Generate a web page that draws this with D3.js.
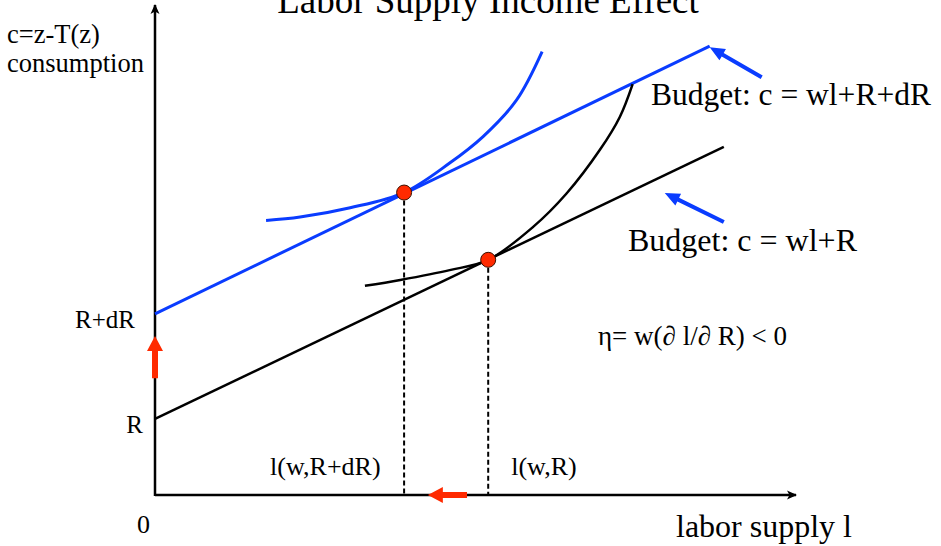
<!DOCTYPE html>
<html>
<head>
<meta charset="utf-8">
<script src="https://cdn.jsdelivr.net/npm/d3@7"></script>
<style>
  html, body { margin: 0; padding: 0; background: #fff; }
  svg { display: block; }
</style>
</head>
<body>
<svg id="chart" width="941" height="546"></svg>
<script>
// values, in chart units (l across, c up)
const budgetOld = [[0, 15.5], [88.6, 70.9]]          // c = wl+R
const budgetNew = [[0, 36.9], [86.4, 91.4]]          // c = wl+R+dR
const curveNew = [[17.3, 55.9], [22.6, 56.6], [30.4, 58.5], [38.8, 61.6], [45.9, 67.6], [51.1, 73.0], [56.3, 80.4], [60.3, 90.3]]
const curveOld = [[32.7, 42.6], [38.2, 43.8], [45.9, 45.8], [51.9, 47.9], [58.9, 54.6], [64.1, 61.4], [69.3, 70.3], [72.4, 77.0], [74.4, 83.7]]
const optima = [[38.8, 61.6], [51.9, 47.9]]
const optimumLabels = ['l(w,R+dR)', 'l(w,R)']
const interceptLabels = [['R', 15.5], ['R+dR', 36.9]]
// annotation arrows: [from, to]
const blueArrows = [[[94.5, 85.1], [86.4, 91.2]], [[88.6, 55.6], [79.4, 61.5]]]
const redArrows = [[[0, 23.8], [0, 32.4]], [[48.6, 0], [42.5, 0]]]

const blue = '#0a3cff'
const red = '#ff2a00'
const serif = '"Times New Roman", "Liberation Serif", Tinos, serif'

const svg = d3.select('#chart')
svg.append('rect').attr('width', 941).attr('height', 546).attr('fill', '#fff')

const x = d3.scaleLinear().domain([0, 100]).range([155, 797])
const y = d3.scaleLinear().domain([0, 100]).range([495, 4])

// arrow heads for the axes
svg.append('defs').append('marker')
	.attr('id', 'axisHead')
	.attr('markerUnits', 'userSpaceOnUse')
	.attr('viewBox', '0 -5 10 10')
	.attr('refX', 9).attr('refY', 0)
	.attr('markerWidth', 10).attr('markerHeight', 10)
	.attr('orient', 'auto')
	.append('path').attr('d', 'M0,-4.5L10,0L0,4.5L2.5,0Z').attr('fill', '#000')

// axes with no ticks, just the domain line
const xAxis = svg.append('g').attr('transform', `translate(0,${y(0)})`)
	.call(d3.axisBottom(x).tickValues([]).tickSizeOuter(0))
const yAxis = svg.append('g').attr('transform', `translate(${x(0)},0)`)
	.call(d3.axisLeft(y).tickValues([]).tickSizeOuter(0))
xAxis.select('.domain').attr('stroke-width', 2.5).attr('d', `M${x(0)},0H${x(100) - 1}`).attr('marker-end', 'url(#axisHead)')
yAxis.select('.domain').attr('stroke-width', 2.5).attr('d', `M0,${y(0) + 1}V${y(100) + 1}`).attr('marker-end', 'url(#axisHead)')

const line = d3.line().x(d => x(d[0])).y(d => y(d[1]))
const smooth = d3.line().x(d => x(d[0])).y(d => y(d[1])).curve(d3.curveCatmullRom)

// budget lines and indifference curves
svg.append('path').attr('d', line(budgetOld)).attr('fill', 'none').attr('stroke', '#000').attr('stroke-width', 2.5)
svg.append('path').attr('d', line(budgetNew)).attr('fill', 'none').attr('stroke', blue).attr('stroke-width', 3)
svg.append('path').attr('d', smooth(curveOld)).attr('fill', 'none').attr('stroke', '#000').attr('stroke-width', 2.5)
svg.append('path').attr('d', smooth(curveNew)).attr('fill', 'none').attr('stroke', blue).attr('stroke-width', 3)

// dashed drop lines
svg.selectAll('line.drop').data(optima).join('line')
	.attr('class', 'drop')
	.attr('x1', d => x(d[0])).attr('x2', d => x(d[0]))
	.attr('y1', d => y(d[1])).attr('y2', y(0))
	.attr('stroke', '#000').attr('stroke-width', 2).attr('stroke-dasharray', '5,3')

// arrow polygon in pixel space: shaft + head
function arrowPath(p0, p1, shaft, headLen, headW) {
	const x0 = x(p0[0]), y0 = y(p0[1]), x1 = x(p1[0]), y1 = y(p1[1])
	const len = Math.hypot(x1 - x0, y1 - y0)
	const ux = (x1 - x0) / len, uy = (y1 - y0) / len
	const nx = -uy, ny = ux
	const bx = x1 - ux * headLen, by = y1 - uy * headLen
	const pts = [
		[x0 + nx * shaft / 2, y0 + ny * shaft / 2],
		[bx + nx * shaft / 2, by + ny * shaft / 2],
		[bx + nx * headW / 2, by + ny * headW / 2],
		[x1, y1],
		[bx - nx * headW / 2, by - ny * headW / 2],
		[bx - nx * shaft / 2, by - ny * shaft / 2],
		[x0 - nx * shaft / 2, y0 - ny * shaft / 2],
	]
	return 'M' + pts.map(p => p.join(',')).join('L') + 'Z'
}

svg.selectAll('path.blueArrow').data(blueArrows).join('path')
	.attr('class', 'blueArrow')
	.attr('d', d => arrowPath(d[0], d[1], 4, 15, 13))
	.attr('fill', blue)

svg.selectAll('path.redArrow').data(redArrows).join('path')
	.attr('class', 'redArrow')
	.attr('d', d => arrowPath(d[0], d[1], 6, 15, 16))
	.attr('fill', red)

// optimum points
svg.selectAll('circle.opt').data(optima).join('circle')
	.attr('class', 'opt')
	.attr('cx', d => x(d[0])).attr('cy', d => y(d[1]))
	.attr('r', 7.5)
	.attr('fill', red).attr('stroke', '#3a1000').attr('stroke-width', 1)

// texts
function label(tx, ty, size, str, anchor) {
	return svg.append('text')
		.attr('x', tx).attr('y', ty)
		.attr('font-family', serif)
		.attr('font-size', size)
		.attr('text-anchor', anchor || 'start')
		.attr('fill', '#000')
		.text(str)
}

label(488, 13, 37, 'Labor Supply Income Effect', 'middle')
label(7, 43, 26.5, 'c=z-T(z)')
label(7, 72, 26.5, 'consumption')
label(651, 105, 31.5, 'Budget: c = wl+R+dR')
label(628, 251, 32, 'Budget: c = wl+R')

interceptLabels.forEach(d => label(d[0] === 'R' ? 143 : 135, y(d[1]) + 14, 25, d[0], 'end'))
optima.forEach((d, i) => label(i === 0 ? x(d[0]) - 134 : x(d[0]) + 23, 475, 26, optimumLabels[i]))

label(598, 345, 27, 'η= w(∂ l/∂ R) < 0')
label(137, 533, 26, '0')
label(676, 537, 32, 'labor supply l')
</script>
</body>
</html>
